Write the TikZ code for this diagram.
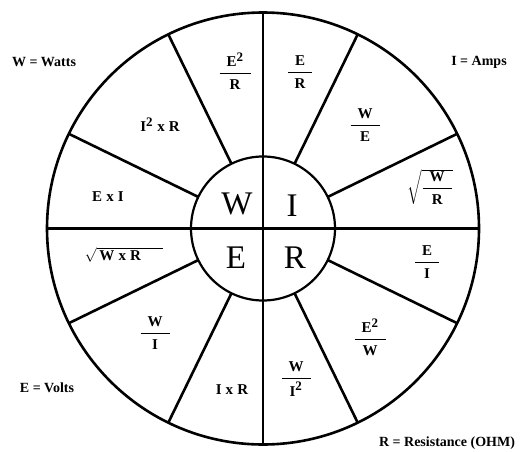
\documentclass[tikz,border=0pt]{standalone}
\usepackage{amsmath}
\usepackage{fontspec}
\setmainfont{Liberation Serif}
\usepackage{tikz}
\usetikzlibrary{shapes,positioning,calc}

\newcommand{\wfr}[2]{\genfrac{}{}{1.1pt}{0}{\text{\hspace{7pt}#1\hspace{7pt}}\rule[-3pt]{0pt}{3pt}}{\rule{0pt}{12pt}\text{#2}}}
\newcommand{\wfrac}[2]{$\wfr{#1}{#2}$}
\newcommand{\sq}{\textsuperscript{\fontsize{13}{13}\selectfont 2}}

\begin{document}
\begin{tikzpicture}[x=1pt, y=1pt, line width=2.6pt]
    \useasboundingbox (0,0) rectangle (524,451);
    \tikzset{
        ring/.style={circle, draw, inner sep=0pt, outer sep=0pt},
        formula/.style={font=\bfseries\fontsize{15}{17}\selectfont},
        legend/.style={font=\bfseries\fontsize{14}{16}\selectfont},
        letter/.style={font=\fontsize{33}{36}\selectfont}
    }
    \node[ring, minimum size=432pt] (wheel) at (263,222.5) {};
    \node[ring, minimum size=144pt, line width=2.2pt] (hub) at (wheel.center) {};

    % cross through the middle
    \draw (wheel.north) -- (wheel.south);
    \draw (wheel.west) -- (wheel.east);
    % spokes
    \foreach \a in {26,64,116,154,206,244,296,334}
        \draw (hub.\a) -- (wheel.\a);

    % the four quantities
    \node[letter] (watts) at (237,247) {W};
    \node[letter] (amps) at (292,245) {I};
    \node[letter] (volts) at (236,193) {E};
    \node[letter] (ohms) at (295,193) {R};

    % formulas round the wheel
    \node[formula] (w1) at (235,380) {\wfrac{E\sq}{R}};
    \node[formula] (i1) at (300,379) {\wfrac{E}{R}};
    \node[formula] (i2) at (365,326) {\wfrac{W}{E}};
    \node[formula] (i3) at (430,264) {$\sqrt{\wfr{W}{R}}$};
    \node[formula] (r1) at (427,189) {\wfrac{E}{I}};
    \node[formula] (r2) at (370,114) {\wfrac{E\sq}{W}};
    \node[formula] (r3) at (296,72) {\wfrac{W}{I\sq}};
    \node[formula] (e1) at (232,61) {I\;x\;R};
    \node[formula] (e2) at (155,118) {\wfrac{W}{I}};
    \node[formula] (e3) at (124,196) {$\sqrt{\text{\,W\;x\;R\hspace{22pt}}}$};
    \node[formula] (w2) at (108,254) {E\;x\;I};
    \node[formula] (w3) at (160,326) {I\sq\;x\;R};

    % key
    \node[legend] (keyw) at (44,389) {W = Watts};
    \node[legend] (keyi) at (479,389) {I = Amps};
    \node[legend] (keye) at (47,63) {E = Volts};
    \node[legend] (keyr) at (447,8) {R = Resistance (OHM)};
\end{tikzpicture}
\end{document}
